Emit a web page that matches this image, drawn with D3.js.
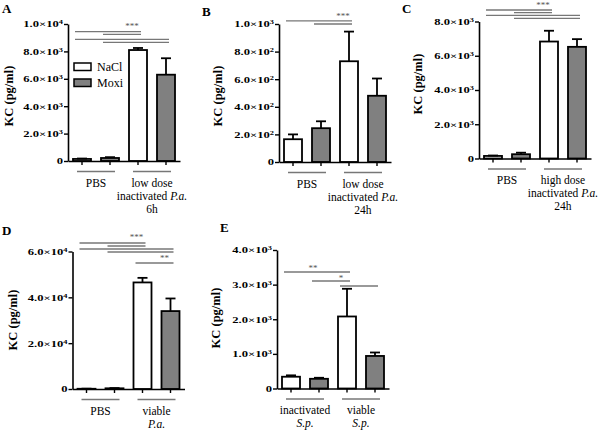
<!DOCTYPE html>
<html><head><meta charset="utf-8">
<script src="https://cdn.jsdelivr.net/npm/d3@7"></script>
<style>body{margin:0;background:#fff} svg{display:block}</style>
</head><body>
<svg id="c" width="600" height="430"></svg>
<script>
// ---------- DATA ----------
// bar order in every panel: [NaCl g1, Moxi g1, NaCl g2, Moxi g2]
const series = ["NaCl", "Moxi"];

const aGroups = [["PBS"], ["low dose", "inactivated _P.a._", "6h"]];
const aMean = [150, 220, 8100, 6300];
const aErr = [30, 60, 150, 1200];
const aTicks = [0, 2000, 4000, 6000, 8000, 10000];
const aBrackets = [[0, 2, 9440], [1, 2, 9250], [0, 3, 8880], [1, 3, 8660]];
const aStars = [["***", 2, 9640]];

const bGroups = [["PBS"], ["low dose", "inactivated _P.a._", "24h"]];
const bMean = [165, 245, 730, 480];
const bErr = [35, 50, 215, 125];
const bTicks = [0, 200, 400, 600, 800, 1000];
const bBrackets = [[0, 2, 1022], [1, 2, 1000]];
const bStars = [["***", 2, 1033]];

const cGroups = [["PBS"], ["high dose", "inactivated _P.a._", "24h"]];
const cMean = [150, 250, 6830, 6520];
const cErr = [25, 90, 630, 450];
const cTicks = [0, 2000, 4000, 6000, 8000];
const cBrackets = [[0, 2, 8672], [1, 2, 8514], [0, 3, 8362], [1, 3, 8187]];
const cStars = [["***", 2, 8790]];

const dGroups = [["PBS"], ["viable", "_P.a._"]];
const dMean = [100, 300, 46500, 34000];
const dErr = [50, 100, 2000, 5500];
const dTicks = [0, 20000, 40000, 60000];
const dBrackets = [[0, 2, 63710], [1, 2, 62400], [0, 3, 61090], [1, 3, 59780], [2, 3, 54980]];
const dStars = [["***", 2, 65000], ["**", 3, 55850]];

const eGroups = [["inactivated", "_S.p._"], ["viable", "_S.p._"]];
const eMean = [340, 280, 2080, 940];
const eErr = [40, 30, 800, 100];
const eTicks = [0, 1000, 2000, 3000, 4000];
const eBrackets = [[0, 2, 3365], [1, 2, 3105], [2, 3, 2960]];
const eStars = [["**", 1, 3394], ["*", 2, 3105]];

// ---------- LAYOUT ----------
const layout = {
  A: {ax: 68,   y0: 161,   yTop: 24,    lab: [13, 96],   letter: [2, 13]},
  B: {ax: 279,  y0: 162,   yTop: 24,    lab: [222, 96],  letter: [202, 16]},
  C: {ax: 479,  y0: 158.5, yTop: 21.5,  lab: [422, 84],  letter: [402, 13]},
  D: {ax: 72.5, y0: 389,   yTop: 251.5, lab: [17, 320],  letter: [2, 235]},
  E: {ax: 277,  y0: 388.5, yTop: 250,   lab: [220, 318], letter: [220, 232]}
};
const fills = ["#ffffff", "#808080"];
const GREY = "#777";
const FONT = "'Liberation Serif','Times New Roman',serif";

const svg = d3.select("#c").attr("font-family", FONT);

function sci(v) {
  if (v === 0) return ["0", null];
  const e = Math.floor(Math.log10(v) + 1e-9);
  const m = v / Math.pow(10, e);
  return [m.toFixed(1) + "\u00d710", e];
}

function richText(sel, str) {
  str.split("_").forEach((seg, i) => {
    if (!seg) return;
    sel.append("tspan").attr("font-style", i % 2 ? "italic" : "normal").text(seg);
  });
}

function drawPanel(id, groups, mean, err, ticks, brackets, stars, legend) {
  const L = layout[id];
  const x = d3.scaleBand().domain(d3.range(mean.length))
    .range([L.ax, L.ax + 112]).paddingInner(0.357).paddingOuter(0.1786);
  const y = d3.scaleLinear().domain([0, d3.max(ticks)]).range([L.y0, L.yTop]);
  const cx = i => x(i) + x.bandwidth() / 2;
  const g = svg.append("g");

  // significance brackets
  g.selectAll("line.br").data(brackets).join("line").attr("class", "br")
    .attr("x1", d => cx(d[0]) - 7).attr("x2", d => cx(d[1]) + 3)
    .attr("y1", d => y(d[2])).attr("y2", d => y(d[2]))
    .attr("stroke", GREY).attr("stroke-width", 1.3);
  g.selectAll("text.st").data(stars).join("text").attr("class", "st")
    .attr("x", d => cx(d[1]) - 6).attr("y", d => y(d[2]))
    .attr("text-anchor", "middle").attr("font-size", 9).attr("fill", "#555")
    .text(d => d[0]);

  // bars
  const data = mean.map((m, i) => ({i, m, e: err[i]}));
  g.selectAll("rect.bar").data(data).join("rect").attr("class", "bar")
    .attr("x", d => x(d.i)).attr("width", x.bandwidth())
    .attr("y", d => y(d.m)).attr("height", d => L.y0 - y(d.m))
    .attr("fill", d => fills[d.i % 2]).attr("stroke", "#000").attr("stroke-width", 1.8);
  g.selectAll("line.eb").data(data).join("line").attr("class", "eb")
    .attr("x1", d => cx(d.i)).attr("x2", d => cx(d.i))
    .attr("y1", d => y(d.m)).attr("y2", d => y(d.m + d.e))
    .attr("stroke", "#000").attr("stroke-width", 1.8);
  g.selectAll("line.cap").data(data).join("line").attr("class", "cap")
    .attr("x1", d => cx(d.i) - 5).attr("x2", d => cx(d.i) + 5)
    .attr("y1", d => y(d.m + d.e)).attr("y2", d => y(d.m + d.e))
    .attr("stroke", "#000").attr("stroke-width", 1.8);

  // y axis
  const yg = g.append("g").attr("transform", `translate(${L.ax},0)`)
    .call(d3.axisLeft(y).tickValues(ticks).tickSize(4).tickSizeOuter(0).tickFormat(""));
  yg.select(".domain").attr("stroke-width", 1.6);
  yg.selectAll(".tick line").attr("stroke-width", 1.4);
  yg.selectAll(".tick").each(function (v) {
    const [base, e] = sci(v);
    const t = d3.select(this).append("text")
      .attr("transform", "translate(-5,0) scale(1.4,1)")
      .attr("text-anchor", "end").attr("dy", "0.33em")
      .attr("font-size", 9).attr("font-weight", "bold").attr("fill", "#000")
      .attr("font-family", FONT);
    t.append("tspan").text(base);
    if (e !== null) t.append("tspan").attr("font-size", 6).attr("dy", -3).text(e);
  });

  // x axis
  const xg = g.append("g").attr("transform", `translate(0,${L.y0})`)
    .call(d3.axisBottom(x).tickSize(4).tickSizeOuter(0).tickFormat(""));
  xg.select(".domain").attr("stroke-width", 1.6);
  xg.selectAll(".tick line").attr("stroke-width", 1.4);

  // group underlines and labels
  groups.forEach((lines, k) => {
    const gc = (cx(2 * k) + cx(2 * k + 1)) / 2;
    g.append("line").attr("x1", gc - 19).attr("x2", gc + 19)
      .attr("y1", L.y0 + 10.5).attr("y2", L.y0 + 10.5)
      .attr("stroke", GREY).attr("stroke-width", 1.3);
    lines.forEach((ln, j) => {
      const t = g.append("text").attr("x", gc).attr("y", L.y0 + 25.5 + 13 * j)
        .attr("text-anchor", "middle").attr("font-size", 11.5);
      richText(t, ln);
    });
  });

  // y label
  g.append("text").attr("transform", `translate(${L.lab[0]},${L.lab[1]}) rotate(-90)`)
    .attr("text-anchor", "middle").attr("font-size", 12.5).attr("font-weight", "bold")
    .text("KC (pg/ml)");
  // panel letter
  g.append("text").attr("x", L.letter[0]).attr("y", L.letter[1])
    .attr("font-size", 13).attr("font-weight", "bold").text(id);

  // legend
  if (legend) {
    series.forEach((s, i) => {
      const ly = 63 + 16 * i;
      g.append("rect").attr("x", x(0) + 1).attr("y", ly).attr("width", 17).attr("height", 7.5)
        .attr("fill", fills[i]).attr("stroke", "#000").attr("stroke-width", 1.5);
      g.append("text").attr("x", x(0) + 24).attr("y", ly + 7.5)
        .attr("font-size", 12).text(s);
    });
  }
}

drawPanel("A", aGroups, aMean, aErr, aTicks, aBrackets, aStars, true);
drawPanel("B", bGroups, bMean, bErr, bTicks, bBrackets, bStars, false);
drawPanel("C", cGroups, cMean, cErr, cTicks, cBrackets, cStars, false);
drawPanel("D", dGroups, dMean, dErr, dTicks, dBrackets, dStars, false);
drawPanel("E", eGroups, eMean, eErr, eTicks, eBrackets, eStars, false);
</script>
</body></html>
